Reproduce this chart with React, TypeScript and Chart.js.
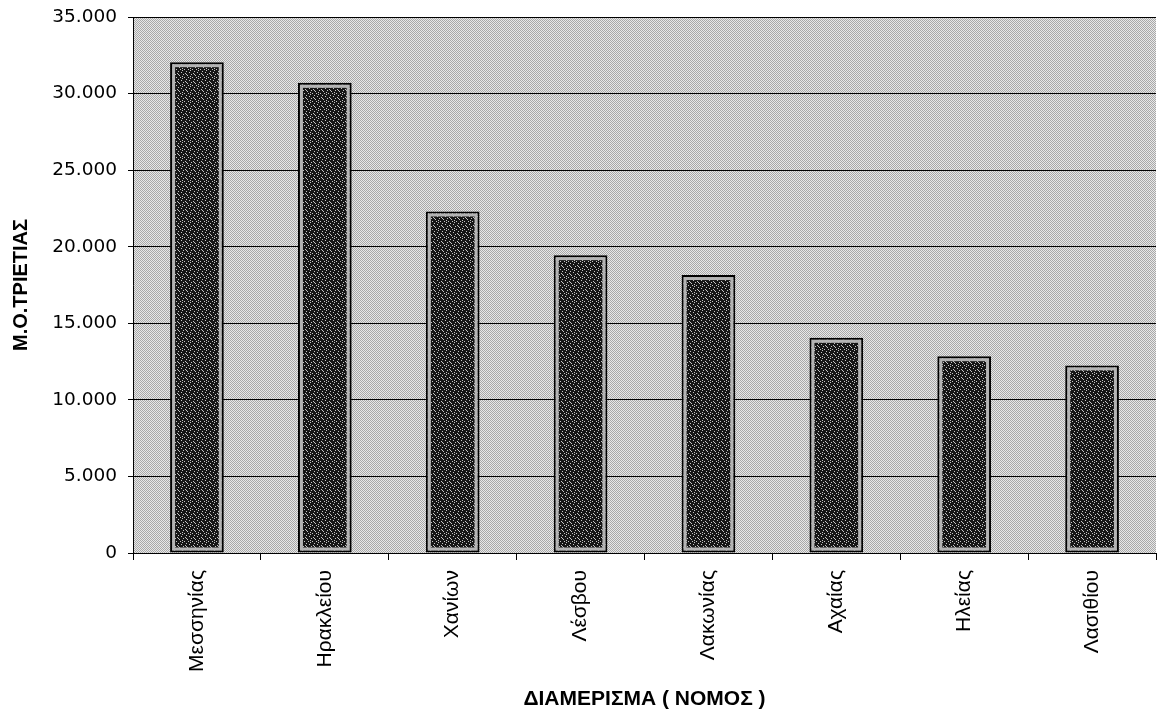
import React, { useEffect, useRef } from 'react';
import { Chart, registerables } from 'chart.js';

Chart.register(...registerables);

const categories = ['Μεσσηνίας', 'Ηρακλείου', 'Χανίων', 'Λέσβου', 'Λακωνίας', 'Αχαίας', 'Ηλείας', 'Λασιθίου'];
const averages = [32050, 30700, 22300, 19450, 18150, 14050, 12850, 12250];
const yMin = 0;
const yMax = 35000;
const yStep = 5000;
const xTitle = 'ΔΙΑΜΕΡΙΣΜΑ ( ΝΟΜΟΣ )';
const yTitle = 'Μ.Ο.ΤΡΙΕΤΙΑΣ';

function formatThousands(v: number): string {
  return String(v).replace(/\B(?=(\d{3})+(?!\d))/g, '.');
}

function makePattern(size: number, base: string, spot: string, spots: number[][]): CanvasPattern | string {
  const c = document.createElement('canvas');
  c.width = size;
  c.height = size;
  const g = c.getContext('2d');
  if (!g) return base;
  g.fillStyle = base;
  g.fillRect(0, 0, size, size);
  g.fillStyle = spot;
  spots.forEach(([px, py]) => g.fillRect(px, py, 1, 1));
  const p = g.createPattern(c, 'repeat');
  return p || base;
}

export default function App() {
  const canvasRef = useRef<HTMLCanvasElement | null>(null);

  useEffect(() => {
    document.body.style.margin = '0';
    const canvas = canvasRef.current;
    if (!canvas) return;

    const bgPattern = makePattern(2, '#e8e8e8', '#a8a8a8', [[0, 0], [1, 1]]);
    const barPattern = makePattern(8, '#161616', '#c4c4c4', [
      [1, 1], [5, 0], [3, 3], [7, 2], [0, 5], [6, 6], [2, 7], [4, 5], [6, 4], [2, 2],
    ]);

    const plotBg = {
      id: 'plotBg',
      beforeDraw(chart: any) {
        const { ctx, chartArea } = chart;
        ctx.save();
        ctx.fillStyle = bgPattern;
        ctx.fillRect(chartArea.left, chartArea.top, chartArea.right - chartArea.left, chartArea.bottom - chartArea.top);
        ctx.restore();
      },
    };

    const innerFrame = {
      id: 'innerFrame',
      afterDatasetsDraw(chart: any) {
        const { ctx } = chart;
        const meta = chart.getDatasetMeta(0);
        ctx.save();
        ctx.strokeStyle = '#b4b4b4';
        ctx.lineWidth = 3;
        meta.data.forEach((bar: any) => {
          const { x, y, base, width } = bar.getProps(['x', 'y', 'base', 'width'], true);
          const left = x - width / 2;
          ctx.strokeRect(left + 3.5, y + 3.5, width - 7, base - y - 7);
        });
        ctx.restore();
      },
    };

    const chart = new Chart(canvas, {
      type: 'bar',
      data: {
        labels: categories,
        datasets: [
          {
            label: yTitle,
            data: averages,
            backgroundColor: barPattern as any,
            borderColor: '#000000',
            borderWidth: 2,
            borderSkipped: false,
            barPercentage: 0.42,
            categoryPercentage: 1,
          },
        ],
      },
      options: {
        animation: false,
        responsive: true,
        maintainAspectRatio: false,
        layout: { padding: { top: 17, right: 1, left: 0, bottom: 0 } },
        plugins: {
          legend: { display: false },
          tooltip: { enabled: false },
        },
        scales: {
          x: {
            grid: {
              display: true,
              drawOnChartArea: false,
              drawTicks: true,
              tickLength: 7,
              color: '#000000',
              offset: true,
              lineWidth: 1,
            },
            border: { display: true, color: '#000000', width: 1 },
            ticks: {
              minRotation: 90,
              maxRotation: 90,
              autoSkip: false,
              padding: 10,
              color: '#000000',
              font: { family: 'Liberation Sans', size: 21 },
            },
            title: {
              display: true,
              text: xTitle,
              color: '#000000',
              font: { family: 'Liberation Sans', size: 21, weight: 'bold' },
              padding: { top: 0, bottom: 3 },
            },
            afterFit: (s: any) => {
              s.height = 715 - 553;
              s.paddingLeft = 0;
              s.paddingRight = 0;
            },
          },
          y: {
            min: yMin,
            max: yMax,
            ticks: {
              stepSize: yStep,
              color: '#000000',
              padding: 11,
              font: { family: 'DejaVu Sans', size: 18.5 },
              callback: (v: any) => formatThousands(Number(v)),
            },
            grid: { color: '#000000', lineWidth: 1, tickLength: 5, drawTicks: true },
            border: { display: true, color: '#000000', width: 1 },
            title: {
              display: true,
              text: yTitle,
              color: '#000000',
              font: { family: 'Liberation Sans', size: 20, weight: 'bold' },
              padding: { top: 9, bottom: 0 },
            },
            afterFit: (s: any) => {
              s.width = 133;
              s.paddingTop = 0;
              s.paddingBottom = 0;
            },
          },
        },
      },
      plugins: [plotBg, innerFrame],
    });

    return () => chart.destroy();
  }, []);

  return (
    <div style={{ width: 1157, height: 715, position: 'relative', background: '#ffffff' }}>
      <canvas ref={canvasRef} />
    </div>
  );
}
